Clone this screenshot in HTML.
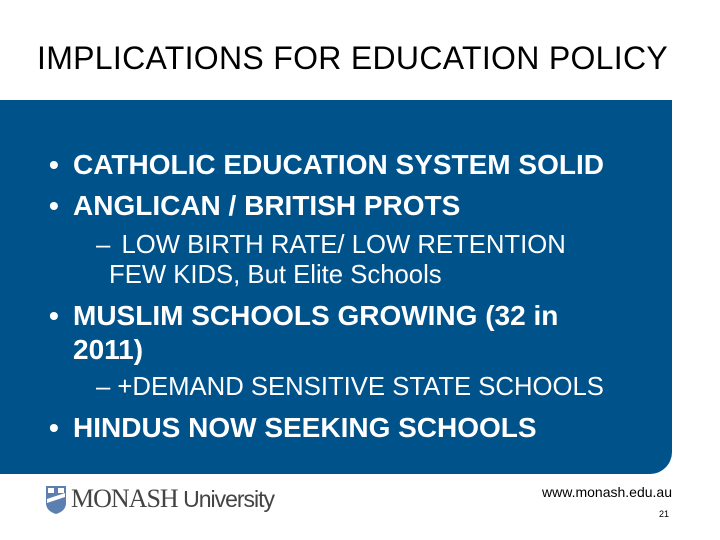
<!DOCTYPE html>
<html><head><meta charset="utf-8"><style>
body{margin:0;width:720px;height:540px;background:#fff;position:relative;overflow:hidden;font-family:"Liberation Sans",sans-serif}
.a{position:absolute;white-space:nowrap}
#title{left:37px;top:40px;font-size:32px;color:#000;letter-spacing:0.3px}
#box{left:0;top:100px;width:672px;height:374px;background:#00528a;border-bottom-right-radius:22px}
.b{color:#fff;font-size:28px;font-weight:bold;line-height:30px}
.s{color:#fff;font-size:25.7px;line-height:28px}
.d{position:absolute;left:-24px}
</style></head><body>
<div class="a" id="title">IMPLICATIONS FOR EDUCATION POLICY</div>
<div class="a" id="box"></div>
<div class="a b" style="left:73px;top:150px"><span class="d">•</span>CATHOLIC EDUCATION SYSTEM SOLID</div>
<div class="a b" style="left:73px;top:191px"><span class="d">•</span>ANGLICAN / BRITISH PROTS</div>
<div class="a s" style="left:96px;top:231px">– <span style="margin-left:4px">LOW BIRTH RATE/ LOW RETENTION</span></div>
<div class="a s" style="left:109px;top:261px">FEW KIDS, But Elite Schools</div>
<div class="a b" style="left:73px;top:301px"><span class="d">•</span>MUSLIM SCHOOLS GROWING (32 in</div>
<div class="a b" style="left:73px;top:335px">2011)</div>
<div class="a s" style="left:96px;top:373px">– +DEMAND SENSITIVE STATE SCHOOLS</div>
<div class="a b" style="left:73px;top:413px"><span class="d">•</span>HINDUS NOW SEEKING SCHOOLS</div>
<svg class="a" style="left:45px;top:485px" width="22" height="30"><path d="M1 1H21V18Q21 26 11 29Q1 26 1 18Z" fill="#5a7fb0"/><path d="M2 14L20 8V12L2 18Z" fill="#fff"/><rect x="3" y="3" width="6" height="5" fill="#fff"/><rect x="13" y="3" width="6" height="5" fill="#fff"/></svg>
<div class="a" style="left:71px;top:483px;font-size:26px;color:#444;letter-spacing:-1px"><span style="font-family:'Liberation Serif',serif">MONASH</span><span style="font-size:23px"> University</span></div>
<div class="a" style="right:48px;top:484px;font-size:14px;color:#000">www.monash.edu.au</div>
<div class="a" style="right:51px;top:509px;font-size:9px;color:#000">21</div>
</body></html>
